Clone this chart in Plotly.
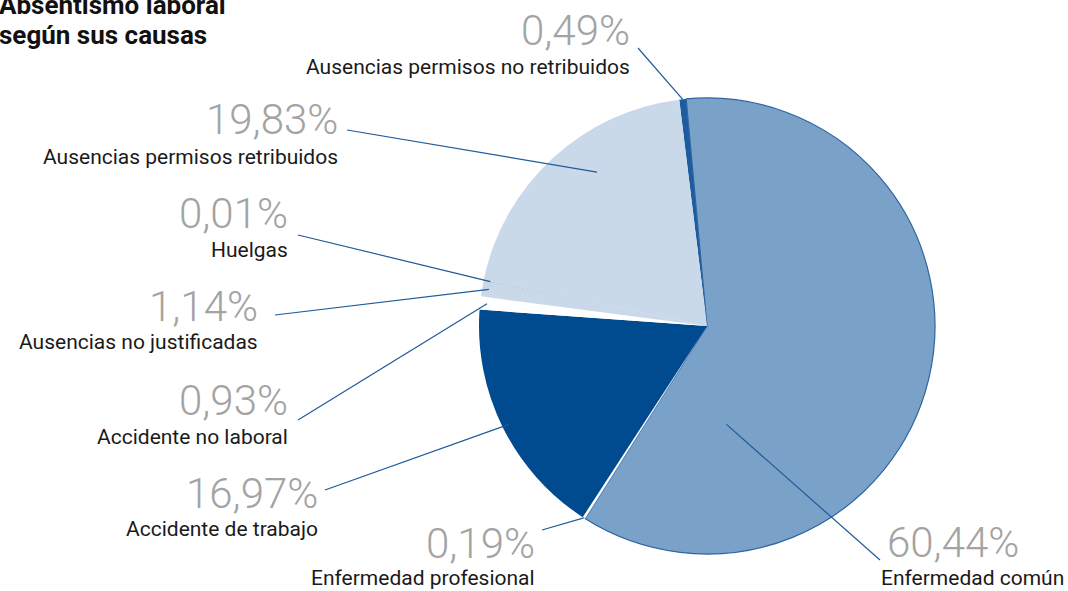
import math
import plotly.graph_objects as go

# ---- data (clockwise from the top) ----
categories = [
    "Ausencias permisos no retribuidos",
    "Enfermedad común",
    "Enfermedad profesional",
    "Accidente de trabajo",
    "Accidente no laboral",
    "Ausencias no justificadas",
    "Huelgas",
    "Ausencias permisos retribuidos",
]
values = [0.49, 60.44, 0.19, 16.97, 0.93, 1.14, 0.01, 19.83]
pct_labels = ["0,49%", "60,44%", "0,19%", "16,97%", "0,93%", "1,14%", "0,01%", "19,83%"]

# ---- styling ----
colors = ["#1d5c9e", "#7aa2c9", "#ffffff", "#004a8f", "#ffffff", "#c9d9ea", "#4a7db4", "#c9d9ea"]
line_w = [0, 1.2, 0, 0, 0, 0, 0, 0]
W, H = 1068, 591
CX, CY, R = 707, 326, 228
START = -7  # degrees clockwise from 12 o'clock

def px(x):
    return x / W

def py(y):
    return 1 - y / H

fig = go.Figure(go.Pie(
    labels=categories, values=values, sort=False, direction="clockwise",
    rotation=START, textinfo="none", hoverinfo="label+percent",
    marker=dict(colors=colors, line=dict(color="#2d64a2", width=line_w)),
    domain=dict(x=[px(CX - R), px(CX + R)], y=[py(CY + R), py(CY - R)]),
    showlegend=False,
))

# label layout: (pct x px, label x px, pct center y, label center y, xanchor pct, xanchor label,
#                line start px, tip radius frac, pos within slice)
layout_info = {
    "Ausencias permisos no retribuidos": (632, 632, 30, 67, "right", "right", (638, 48), 1.0, 0.5),
    "Enfermedad común": (885, 1066, 542, 578, "left", "right", (880, 560), 0.44, 0.8),
    "Enfermedad profesional": (537, 537, 543, 578, "right", "right", (542, 530), 1.0, 0.5),
    "Accidente de trabajo": (320, 320, 493, 529, "right", "right", (325, 490), 0.97, 0.5),
    "Accidente no laboral": (290, 290, 400, 437, "right", "right", (298, 420), 0.97, 0.5),
    "Ausencias no justificadas": (260, 260, 306, 342, "right", "right", (275, 315), 0.97, 0.5),
    "Huelgas": (290, 290, 213, 250, "right", "right", (298, 235), 0.97, 0.5),
    "Ausencias permisos retribuidos": (340, 340, 120, 157, "right", "right", (347, 130), 0.83, 0.6),
}

total = sum(values)
cum = 0.0
for cat, v, pl in zip(categories, values, pct_labels):
    pxx, lxx, pcy, lcy, xa1, xa2, (sx, sy), rf, pos = layout_info[cat]
    ang = math.radians(START + (cum + v * pos) / total * 360)
    tx = CX + rf * R * math.sin(ang)
    ty = CY - rf * R * math.cos(ang)
    cum += v
    fig.add_shape(type="line", xref="paper", yref="paper",
                  x0=px(sx), y0=py(sy), x1=px(tx), y1=py(ty),
                  line=dict(color="#1f5a9a", width=1.2))
    fig.add_annotation(x=px(pxx), y=py(pcy), xref="paper", yref="paper",
                       text=pl, showarrow=False, xanchor=xa1, yanchor="middle",
                       font=dict(family="Roboto", size=42, color="#a3a3a3", weight=300))
    fig.add_annotation(x=px(lxx), y=py(lcy), xref="paper", yref="paper",
                       text=cat, showarrow=False, xanchor=xa2, yanchor="middle",
                       font=dict(family="Roboto", size=21, color="#1a1a1a"))

fig.add_annotation(x=px(-3), y=py(5), xref="paper", yref="paper", text="<b>Absentismo laboral</b>",
                   showarrow=False, xanchor="left", yanchor="middle",
                   font=dict(family="Roboto", size=26, color="#111111"))
fig.add_annotation(x=px(-3), y=py(35), xref="paper", yref="paper", text="<b>según sus causas</b>",
                   showarrow=False, xanchor="left", yanchor="middle",
                   font=dict(family="Roboto", size=26, color="#111111"))

fig.update_layout(width=W, height=H, margin=dict(l=0, r=0, t=0, b=0),
                  paper_bgcolor="white", plot_bgcolor="white")
fig.write_html("out.html", config={"displayModeBar": False},
               post_script="document.body.style.margin='0';document.body.style.padding='0';")
